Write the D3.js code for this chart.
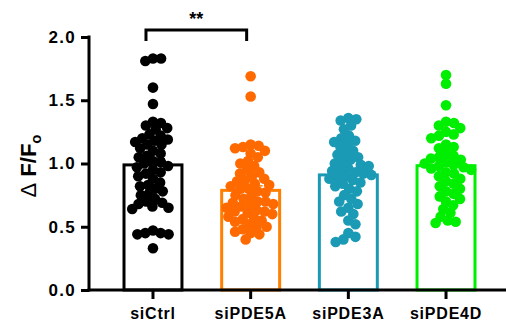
<!DOCTYPE html>
<html>
<head>
<meta charset="utf-8">
<script src="https://cdn.jsdelivr.net/npm/d3@7"></script>
<style>
  html, body { margin: 0; padding: 0; background: #fff; }
  svg { display: block; }
  text { font-family: "Liberation Sans", Arial, sans-serif; font-weight: bold; }
</style>
</head>
<body>
<svg id="chart" width="506" height="331"></svg>
<script>
// ---- data ----
const categories = ["siCtrl", "siPDE5A", "siPDE3A", "siPDE4D"];
const colors = ["#000000", "#FF6A00", "#1B9AB5", "#00EE00"];
const barColors = ["#000000", "#FF8000", "#1B9AB5", "#00EE00"];

const siCtrl = [1.83, 1.81, 1.83, 1.60, 1.47,
  1.32, 1.28, 1.30, 1.33, 1.27,
  1.20, 1.18, 1.15, 1.17, 1.22, 1.12, 1.15, 1.19, 1.23,
  1.10, 1.08, 1.05, 1.06, 1.02, 1.00, 0.98, 0.97, 1.01,
  0.95, 0.92, 0.90, 0.88, 0.93,
  0.85, 0.83, 0.80, 0.82, 0.78, 0.76, 0.75,
  0.72, 0.70, 0.68, 0.66, 0.65, 0.69, 0.64,
  0.47, 0.45, 0.44, 0.45, 0.44, 0.33];
const siPDE5A = [1.69, 1.53,
  1.15, 1.13, 1.12, 1.14, 1.10, 1.08,
  1.05, 1.02, 1.00, 0.98,
  0.95, 0.93, 0.92, 0.90, 0.88, 0.87, 0.86,
  0.84, 0.83, 0.82, 0.80, 0.80, 0.78, 0.77,
  0.75, 0.74, 0.72, 0.70, 0.70, 0.69, 0.68,
  0.67, 0.66, 0.65, 0.63, 0.62, 0.62, 0.61, 0.60,
  0.58, 0.57, 0.56, 0.55, 0.54, 0.52, 0.50, 0.50,
  0.48, 0.46, 0.45, 0.44, 0.40];
const siPDE3A = [1.36, 1.34, 1.35, 1.30, 1.27,
  1.22, 1.20, 1.18, 1.17, 1.15, 1.13,
  1.10, 1.08, 1.07, 1.05, 1.03, 1.02,
  1.00, 0.99, 0.98, 0.96, 0.95, 0.94, 0.93,
  0.92, 0.91, 0.90, 0.89, 0.88, 0.87,
  0.85, 0.84, 0.82, 0.80, 0.78,
  0.75, 0.72, 0.70, 0.68,
  0.65, 0.62, 0.60,
  0.55, 0.52,
  0.45, 0.42, 0.40, 0.38];
const siPDE4D = [1.70, 1.63, 1.46,
  1.33, 1.32, 1.30, 1.28,
  1.25, 1.23, 1.22, 1.20,
  1.15, 1.13, 1.12,
  1.08, 1.06, 1.05, 1.04, 1.03,
  1.01, 1.00, 0.99, 0.98, 0.97, 0.96, 0.95,
  0.93, 0.92, 0.90, 0.88,
  0.86, 0.84, 0.82, 0.80, 0.78,
  0.76, 0.74, 0.72, 0.70,
  0.67, 0.64, 0.61,
  0.58, 0.55, 0.54, 0.53];
const seriesValues = [siCtrl, siPDE5A, siPDE3A, siPDE4D];
const yTicks = [0.0, 0.5, 1.0, 1.5, 2.0];
const significance = { from: "siCtrl", to: "siPDE5A", label: "**" };

// ---- layout ----
const svg = d3.select("#chart");
const x = d3.scaleBand().domain(categories).range([89, 510]).paddingInner(0.376).paddingOuter(0.343);
const y = d3.scaleLinear().domain([0, 2]).range([290, 37]);
const R = 5.3;

const stats = seriesValues.map((vals, i) => {
  const m = d3.mean(vals);
  const sem = d3.deviation(vals) / Math.sqrt(vals.length);
  return { cat: categories[i], mean: m, sem: sem, i: i };
});

const g = svg.append("g");
g.selectAll("rect.bar").data(stats).join("rect")
  .attr("class", "bar")
  .attr("x", d => x(d.cat) + 1.5)
  .attr("y", d => y(d.mean))
  .attr("width", x.bandwidth() - 3)
  .attr("height", d => y(0) - y(d.mean))
  .attr("fill", "#fff")
  .attr("stroke", d => barColors[d.i])
  .attr("stroke-width", 3);

// error bars (SEM)
stats.forEach(d => {
  const cx = x(d.cat) + x.bandwidth() / 2;
  g.append("line").attr("x1", cx).attr("x2", cx)
    .attr("y1", y(d.mean)).attr("y2", y(d.mean + d.sem))
    .attr("stroke", barColors[d.i]).attr("stroke-width", 1.5);
  g.append("line").attr("x1", cx - 12).attr("x2", cx + 12)
    .attr("y1", y(d.mean + d.sem)).attr("y2", y(d.mean + d.sem))
    .attr("stroke", barColors[d.i]).attr("stroke-width", 1.5);
});

// beeswarm placement computed from the values
function swarm(vals, cx) {
  const D = 2 * R * 0.76;
  const order = vals.map((v, k) => ({ v, k, y: y(v) }))
    .sort((a, b) => b.v - a.v);
  const placed = [];
  order.forEach(p => {
    const near = placed.filter(q => Math.abs(q.y - p.y) < D);
    const cands = [0];
    near.forEach(q => {
      const dx = Math.sqrt(D * D - (q.y - p.y) ** 2);
      cands.push(q.dx + dx, q.dx - dx);
    });
    cands.sort((a, b) => Math.abs(a) - Math.abs(b));
    let best = 0;
    for (const c of cands) {
      if (near.every(q => (q.dx - c) ** 2 + (q.y - p.y) ** 2 >= D * D - 0.01)) { best = c; break; }
    }
    p.dx = best;
    placed.push(p);
  });
  return placed.map(p => ({ x: cx + p.dx, y: p.y }));
}

seriesValues.forEach((vals, i) => {
  const cx = x(categories[i]) + x.bandwidth() / 2;
  const pts = swarm(vals, cx);
  g.selectAll(null).data(pts).join("circle")
    .attr("cx", d => d.x).attr("cy", d => d.y).attr("r", R)
    .attr("fill", colors[i]);
});

// axes
const yAxis = d3.axisLeft(y).tickValues(yTicks).tickFormat(d3.format(".1f")).tickSize(8).tickSizeOuter(0).tickPadding(5);
const ya = svg.append("g").attr("transform", "translate(89,0)").call(yAxis);
ya.select(".domain").attr("stroke-width", 3).attr("d", `M0,${y(2) - 1.5}V${y(0) + 1.5}`);
ya.selectAll(".tick line").attr("stroke-width", 3);
ya.selectAll(".tick text").attr("font-size", 17).attr("letter-spacing", 1.3).attr("fill", "#000").style("font-weight", "bold");

const xAxis = d3.axisBottom(x).tickSize(9).tickSizeOuter(0).tickPadding(9);
const xa = svg.append("g").attr("transform", "translate(0,290)").call(xAxis);
xa.select(".domain").attr("stroke-width", 3).attr("d", "M87.5,0H506");
xa.selectAll(".tick line").attr("stroke-width", 3);
xa.selectAll(".tick text").attr("font-size", 16).attr("letter-spacing", 0.8).attr("fill", "#000").style("font-weight", "bold");

// y label
const yl = svg.append("text")
  .attr("transform", "translate(36,166) rotate(-90)")
  .attr("text-anchor", "middle")
  .attr("font-size", 22)
  .attr("fill", "#000");
yl.append("tspan").text("\u0394").style("font-weight", "normal");
yl.append("tspan").text(" F/F");
yl.append("tspan").text("o").attr("font-size", 15).attr("dy", 5);

// significance bracket
const x1 = x(significance.from) + x.bandwidth() / 2 - 7;
const x2 = x(significance.to) + x.bandwidth() / 2 - 4;
const by = 30;
svg.append("path")
  .attr("d", `M${x1},${by + 11}V${by}H${x2}V${by + 11}`)
  .attr("fill", "none").attr("stroke", "#000").attr("stroke-width", 3);
svg.append("text").attr("x", (x1 + x2) / 2).attr("y", 25)
  .attr("text-anchor", "middle").attr("font-size", 18).attr("fill", "#000")
  .text(significance.label);
</script>
</body>
</html>
